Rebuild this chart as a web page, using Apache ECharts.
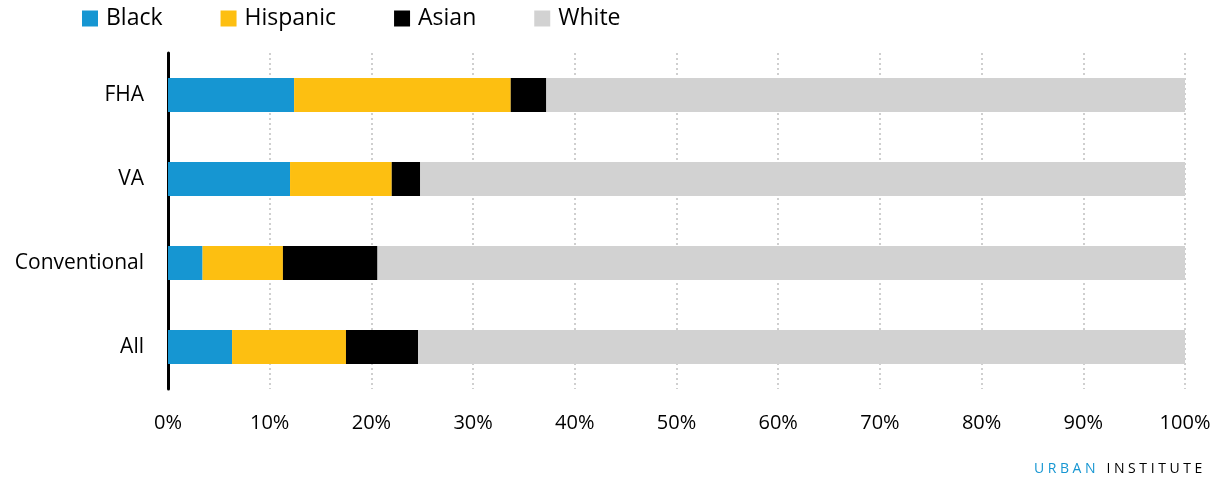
<!DOCTYPE html>
<html>
<head>
<meta charset="utf-8">
<script src="https://cdn.jsdelivr.net/npm/echarts@6/dist/echarts.min.js"></script>
<style>
  html, body { margin: 0; padding: 0; background: #fff; }
  #chart { width: 1224px; height: 479px; }
  #credit {
    position: absolute; right: 18px; top: 458px;
    font-family: "Open Sans", "Noto Sans", sans-serif; font-size: 14px;
    letter-spacing: 3.6px; color: #000;
  }
  #credit .u { color: #1696d2; }
</style>
</head>
<body>
<div id="chart"></div>
<div id="credit"><span class="u">URBAN</span> INSTITUTE</div>
<script>
// Loan types, top to bottom
const categories = ['FHA', 'VA', 'Conventional', 'All'];

// Share of borrowers by race/ethnicity (percent)
const black    = [12.4, 12.0, 3.4, 6.3];
const hispanic = [21.3, 10.0, 7.9, 11.2];
const asian    = [3.5, 2.8, 9.3, 7.1];
const white    = [62.8, 75.2, 79.4, 75.4];

const seriesNames = ['Black', 'Hispanic', 'Asian', 'White'];
const seriesColors = ['#1696d2', '#fdbf11', '#000000', '#d2d2d2'];
const seriesData = [black, hispanic, asian, white];

const font = '"Open Sans", "Noto Sans", sans-serif';

const chart = echarts.init(document.getElementById('chart'), null, { renderer: 'canvas' });

chart.setOption({
  animation: false,
  textStyle: { fontFamily: font },
  legend: {
    left: 77,
    top: 2,
    itemWidth: 16,
    itemHeight: 16,
    itemGap: 58,
    icon: 'rect',
    textStyle: { fontSize: 23, color: '#000', fontFamily: font, padding: [0, 0, 0, 3] },
    data: seriesNames
  },
  grid: { left: 168, right: 39, top: 53, bottom: 90, containLabel: false },
  xAxis: {
    type: 'value',
    min: 0,
    max: 100,
    interval: 10,
    axisLine: { show: false },
    axisTick: { show: false },
    axisLabel: { formatter: '{value}%', fontSize: 20, color: '#000', margin: 24, fontFamily: font },
    splitLine: { show: true, lineStyle: { color: '#cfcfcf', width: 2, type: [2, 3] } }
  },
  yAxis: {
    type: 'category',
    inverse: true,
    data: categories,
    axisLine: { show: true, lineStyle: { color: '#000', width: 3 } },
    axisTick: { show: false },
    axisLabel: { fontSize: 21, color: '#000', margin: 24, fontFamily: font }
  },
  series: seriesNames.map((name, i) => ({
    name,
    type: 'bar',
    stack: 'share',
    barWidth: 34,
    itemStyle: { color: seriesColors[i] },
    data: seriesData[i],
    z: 3
  }))
});
</script>
</body>
</html>
